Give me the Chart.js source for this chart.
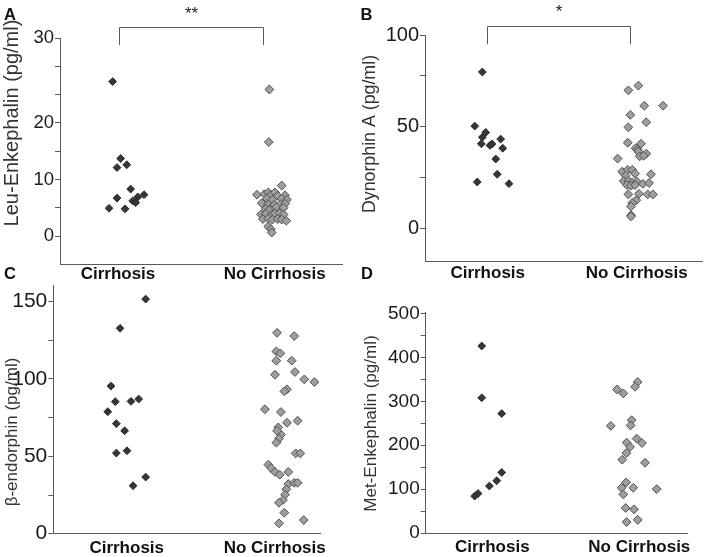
<!DOCTYPE html>
<html><head><meta charset="utf-8">
<script src="https://cdn.jsdelivr.net/npm/chart.js@4.4.1/dist/chart.umd.min.js"></script>
<style>
html,body{margin:0;padding:0;background:#fff;width:708px;height:557px;overflow:hidden}
canvas{position:absolute;left:0;top:0}
</style></head>
<body>
<canvas id="cA" width="708" height="557"></canvas>
<canvas id="cB" width="708" height="557"></canvas>
<canvas id="cC" width="708" height="557"></canvas>
<canvas id="cD" width="708" height="557"></canvas>
<script>
// ---------- data ----------
const categories = ['Cirrhosis', 'No Cirrhosis'];
const panelLetters = ['A', 'B', 'C', 'D'];
const yTitles = ['Leu-Enkephalin (pg/ml)', 'Dynorphin A (pg/ml)', 'β-endorphin (pg/ml)', 'Met-Enkephalin (pg/ml)'];
const significance = ['**', '*'];

const leuCirX = [0.966,1.017,0.994,1.056,1.081,0.994,0.943,1.045,1.094,1.113,1.126,1.166];
const leuCirY = [27.3,13.7,12.1,12.6,8.3,6.7,4.9,4.8,6.2,5.9,6.9,7.3];
const leuNoX = [1.966,1.962,2.045,1.887,1.934,1.959,1.976,2.002,2.019,2.066,1.951,1.985,2.045,2.078,1.917,1.959,1.997,2.036,2.066,1.943,1.964,2.010,2.057,1.913,1.943,1.981,2.002,2.032,2.057,1.925,1.959,1.985,2.019,2.045,2.074,1.959,1.976,1.981];
const leuNoY = [25.9,16.6,8.9,7.3,7.4,7.7,7.3,7.7,7.1,7.2,6.6,6.4,6.6,6.4,5.8,5.6,5.5,5.6,5.7,4.8,4.6,5.1,5.0,3.8,3.9,3.8,4.0,4.0,3.8,3.0,3.1,2.9,3.0,2.9,2.7,1.7,1.2,0.6];
const leuTickValues = [0,5,10,15,20,25,30,35];
const leuTickLabels = ['0','','10','','20','','','30'];

const dynCirX = [0.964,0.913,0.987,0.964,1.087,0.957,1.015,1.029,1.101,1.054,1.064,0.930,1.143];
const dynCirY = [76.9,50.3,47.2,44.8,43.9,41.6,40.8,41.5,39.4,34.1,26.6,22.8,22.0];
const dynNoX = [2.011,1.944,2.051,2.177,1.957,2.064,1.944,1.940,2.029,1.993,2.007,2.011,2.064,2.020,2.047,1.872,1.903,1.940,1.970,1.989,1.926,2.096,1.913,1.944,1.970,2.002,1.935,1.962,1.989,2.042,2.083,1.944,2.015,2.074,2.109,1.997,1.970,1.962,1.962,1.962];
const dynNoY = [70.2,67.9,60.3,60.3,55.8,52.2,49.7,42.1,41.6,39.4,38.7,37.7,36.7,35.4,35.7,34.3,27.9,28.8,28.8,26.9,25.9,26.6,23.3,23.3,22.6,22.9,21.3,21.0,21.3,21.9,22.3,16.7,17.0,16.7,16.7,13.8,12.5,10.8,6.5,5.9];
const dynTickValues = [0,25,50,75,95.1];
const dynTickLabels = ['0','','50','','100'];

const betaCirX = [1.128,0.955,0.894,0.923,1.029,1.081,0.872,0.930,0.986,0.930,1.002,1.128,1.043];
const betaCirY = [151.6,132.7,95.4,85.3,85.5,87.0,78.8,71.1,66.5,52.1,53.6,36.6,31.0];
const betaNoX = [2.016,2.132,2.011,2.038,2.011,2.115,2.137,2.002,2.200,2.268,2.083,2.065,1.934,2.042,2.083,2.155,2.024,2.042,2.016,2.029,2.011,2.142,2.173,1.957,1.975,2.002,2.034,2.092,2.092,2.132,2.155,2.078,2.070,2.056,2.029,2.065,2.029,2.196];
const betaNoY = [129.8,127.7,117.8,116.5,111.8,111.8,104.5,102.7,99.7,98.0,93.3,92.0,80.4,78.6,71.7,73.0,68.7,64.0,66.5,61.4,58.8,51.9,51.9,44.6,42.4,39.9,38.1,39.9,32.1,32.9,32.9,28.7,25.2,21.8,20.0,13.6,6.7,8.8];
const betaTickValues = [0,25,50,75,100,125,150];
const betaTickLabels = ['0','','50','','100','','150'];

const metCirX = [0.928,0.928,1.064,1.064,1.030,0.980,0.903,0.880];
const metCirY = [426,308,272,138,119,107,90,84];
const metNoX = [1.989,1.971,1.848,1.891,1.806,1.948,1.941,1.982,2.018,1.914,1.937,1.912,1.884,2.039,1.910,1.880,1.959,2.118,1.891,1.907,1.964,1.914,1.989];
const metNoY = [344,333,327,318,244,257,245,215,205,206,196,182,167,160,115,103,103,100,88,57,54,25,30];
const metTickValues = [0,50,100,150,200,250,300,350,400,450,500];
const metTickLabels = ['0','','100','','200','','300','','400','','500'];

// ---------- drawing ----------
const FONT = "'Liberation Sans', Arial, Helvetica, sans-serif";
const AXIS = '#5a5a5a';

const decoPlugin = {
  id: 'deco',
  afterDraw(chart, args, o) {
    const ctx = chart.ctx;
    ctx.save();
    ctx.fillStyle = '#111';
    ctx.font = 'bold ' + o.letterSize + 'px ' + FONT;
    ctx.textAlign = 'left';
    ctx.textBaseline = 'alphabetic';
    ctx.fillText(o.letter, o.letterX, o.letterY);

    ctx.save();
    ctx.translate(o.titleX, o.titleY);
    ctx.rotate(-Math.PI / 2);
    ctx.font = o.titleSize + 'px ' + FONT;
    ctx.fillStyle = '#333';
    ctx.textAlign = 'center';
    ctx.textBaseline = 'middle';
    ctx.fillText(o.title, 0, 0);
    ctx.restore();

    if (o.stars) {
      const xs = chart.scales.x;
      const x1 = Math.round(xs.getPixelForValue(o.bracket[0])) + 0.5;
      const x2 = Math.round(xs.getPixelForValue(o.bracket[1])) + 0.5;
      const top = chart.chartArea.top;
      const yb = Math.round(top + o.barOffset) + 0.5;
      const yl = top + o.legOffset;
      ctx.strokeStyle = AXIS;
      ctx.lineWidth = 1;
      ctx.beginPath();
      ctx.moveTo(x1, yl); ctx.lineTo(x1, yb); ctx.lineTo(x2, yb); ctx.lineTo(x2, yl);
      ctx.stroke();
      ctx.fillStyle = '#222';
      ctx.font = o.starSize + 'px ' + FONT;
      ctx.textAlign = 'center';
      ctx.textBaseline = 'alphabetic';
      ctx.fillText(o.stars, (x1 + x2) / 2, yb + o.starDy);
    }
    ctx.restore();
  }
};

function pts(xs, ys) { return xs.map((x, i) => ({x: x, y: ys[i]})); }

function makePanel(id, p) {
  new Chart(document.getElementById(id), {
    type: 'scatter',
    data: {
      datasets: [
        { label: categories[0], data: pts(p.cirX, p.cirY), pointStyle: 'rectRot',
          pointRadius: 3.9, backgroundColor: '#363636', borderColor: '#2a2a2a', borderWidth: 1 },
        { label: categories[1], data: pts(p.noX, p.noY), pointStyle: 'rectRot',
          pointRadius: 4.4, backgroundColor: '#9e9e9e', borderColor: '#505050', borderWidth: 1 }
      ]
    },
    options: {
      responsive: false,
      animation: false,
      events: [],
      layout: { padding: p.pad },
      plugins: { legend: { display: false }, tooltip: { enabled: false }, deco: p.deco },
      scales: {
        x: {
          type: 'linear', min: p.xMin, max: p.xMax,
          afterBuildTicks: s => { s.ticks = [{value: 1}, {value: 2}]; },
          afterFit: s => { s.height = p.xH; },
          ticks: { callback: (v, i) => categories[i], autoSkip: false, maxRotation: 0,
                   font: { family: FONT, size: 17, weight: 'bold', lineHeight: 1 },
                   color: '#111', padding: p.xPad },
          grid: { display: false, drawTicks: false, drawOnChartArea: false },
          border: { display: true, color: AXIS, width: 1 }
        },
        y: {
          type: 'linear', min: p.yMin, max: p.yMax,
          afterBuildTicks: s => { s.ticks = p.tickValues.map(v => ({value: v})); },
          afterFit: s => { s.width = p.yW; },
          ticks: { callback: (v, i) => p.tickLabels[i], autoSkip: false,
                   font: { family: FONT, size: p.tickSize, lineHeight: 1 },
                   color: '#1a1a1a', padding: 1 },
          grid: { drawOnChartArea: false, drawTicks: true, tickLength: 5, color: AXIS, lineWidth: 1 },
          border: { display: true, color: AXIS, width: 1 }
        }
      }
    },
    plugins: [decoPlugin]
  });
}

makePanel('cA', {
  cirX: leuCirX, cirY: leuCirY, noX: leuNoX, noY: leuNoY,
  tickValues: leuTickValues, tickLabels: leuTickLabels, tickSize: 18.5,
  yMin: -5, yMax: 35, xMin: 0.630, xMax: 2.4295,
  pad: { left: 0, right: 366, top: 38, bottom: 266.7 }, yW: 60, xH: 26, xPad: 2,
  deco: { letter: panelLetters[0], letterX: 4, letterY: 20, letterSize: 16.5,
          title: yTitles[0], titleX: 12.5, titleY: 123, titleSize: 20,
          stars: significance[0], bracket: [1.006, 1.927], barOffset: -10.7, legOffset: 7, starDy: -8.3, starSize: 17 }
});

makePanel('cB', {
  cirX: dynCirX, cirY: dynCirY, noX: dynNoX, noY: dynNoY,
  tickValues: dynTickValues, tickLabels: dynTickLabels, tickSize: 20,
  yMin: -16.4, yMax: 95.1, xMin: 0.5792, xMax: 2.4383,
  pad: { left: 354, right: 6, top: 35, bottom: 269.3 }, yW: 71, xH: 26, xPad: 3,
  deco: { letter: panelLetters[1], letterX: 360.5, letterY: 20, letterSize: 16.5,
          title: yTitles[1], titleX: 370.5, titleY: 134, titleSize: 17.8,
          stars: significance[1], bracket: [0.995, 1.955], barOffset: -9.3, legOffset: 9.3, starDy: -10, starSize: 17 }
});

makePanel('cC', {
  cirX: betaCirX, cirY: betaCirY, noX: betaNoX, noY: betaNoY,
  tickValues: betaTickValues, tickLabels: betaTickLabels, tickSize: 21,
  yMin: 0, yMax: 160.5, xMin: 0.504, xMax: 2.3108,
  pad: { left: 0, right: 387.3, top: 285.3, bottom: 0 }, yW: 53.3, xH: 23.3, xPad: 6.3,
  deco: { letter: panelLetters[2], letterX: 4, letterY: 279, letterSize: 16.5,
          title: yTitles[2], titleX: 12, titleY: 432, titleSize: 17 }
});

makePanel('cD', {
  cirX: metCirX, cirY: metCirY, noX: metNoX, noY: metNoY,
  tickValues: metTickValues, tickLabels: metTickLabels, tickSize: 19,
  yMin: 0, yMax: 503.4, xMin: 0.5469, xMax: 2.3245,
  pad: { left: 354, right: 21, top: 312, bottom: 0 }, yW: 71.7, xH: 24, xPad: 5.5,
  deco: { letter: panelLetters[3], letterX: 361, letterY: 279, letterSize: 16.5,
          title: yTitles[3], titleX: 371.5, titleY: 423.5, titleSize: 17.1 }
});
</script>
</body></html>
